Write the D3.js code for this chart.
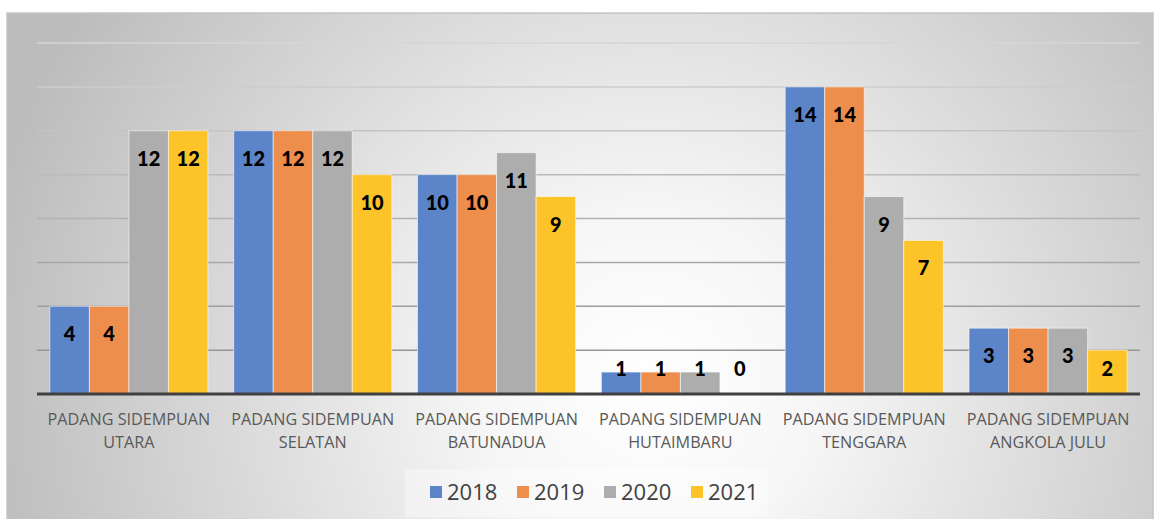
<!DOCTYPE html>
<html>
<head>
<meta charset="utf-8">
<script src="https://cdn.jsdelivr.net/npm/d3@7"></script>
<style>
  html, body { margin: 0; padding: 0; background: #fff; }
  svg { display: block; }
</style>
</head>
<body>
<script>
// kecamatan (dua baris label)
const categories = [
  ["PADANG SIDEMPUAN", "UTARA"],
  ["PADANG SIDEMPUAN", "SELATAN"],
  ["PADANG SIDEMPUAN", "BATUNADUA"],
  ["PADANG SIDEMPUAN", "HUTAIMBARU"],
  ["PADANG SIDEMPUAN", "TENGGARA"],
  ["PADANG SIDEMPUAN", "ANGKOLA JULU"]
];
const years = ["2018", "2019", "2020", "2021"];
const v2018 = [4, 12, 10, 1, 14, 3];
const v2019 = [4, 12, 10, 1, 14, 3];
const v2020 = [12, 12, 11, 1, 9, 3];
const v2021 = [12, 10, 9, 0, 7, 2];
const yTicks = [0, 2, 4, 6, 8, 10, 12, 14, 16];

const colors = ["#5b84c9", "#ee8e4d", "#adadad", "#fdc42a"];
const series = [v2018, v2019, v2020, v2021];

const width = 1155, height = 519;
const svg = d3.select("body").append("svg").attr("width", width).attr("height", height);

const defs = svg.append("defs");
const bg = defs.append("radialGradient").attr("id", "bg")
  .attr("gradientUnits", "userSpaceOnUse")
  .attr("cx", 650).attr("cy", 380).attr("r", 680);
bg.append("stop").attr("offset", 0).attr("stop-color", "#ffffff");
bg.append("stop").attr("offset", 0.25).attr("stop-color", "#f6f6f6");
bg.append("stop").attr("offset", 1).attr("stop-color", "#bcbcbc");

const gg = defs.append("linearGradient").attr("id", "grid")
  .attr("gradientUnits", "userSpaceOnUse")
  .attr("x1", 0).attr("y1", 43).attr("x2", 0).attr("y2", 394);
gg.append("stop").attr("offset", 0).attr("stop-color", "#d6d6d6");
gg.append("stop").attr("offset", 1).attr("stop-color", "#8c8c8c");

// latar grafik
svg.append("rect")
  .attr("x", 7).attr("y", 13).attr("width", 1146).attr("height", 520)
  .attr("fill", "url(#bg)")
  .attr("stroke", "#c4c4c4").attr("stroke-width", 1.5);

const x0 = d3.scaleBand()
  .domain(d3.range(categories.length))
  .range([37, 1140])
  .paddingInner(0.14).paddingOuter(0.07);
const x1 = d3.scaleBand().domain(years).range([0, x0.bandwidth()]);
const y = d3.scaleLinear().domain([0, 16]).range([394, 43]);

// garis bantu
svg.append("g")
  .selectAll("line")
  .data(yTicks.slice(1))
  .join("line")
  .attr("x1", 37).attr("x2", 1140)
  .attr("y1", d => y(d)).attr("y2", d => y(d))
  .attr("stroke", "url(#grid)").attr("stroke-width", 1.5);

// batang
const groups = svg.append("g")
  .selectAll("g")
  .data(categories.map((c, i) => i))
  .join("g")
  .attr("transform", i => `translate(${x0(i)},0)`);

groups.selectAll("rect")
  .data(i => years.map((yr, k) => ({ yr, k, v: series[k][i] })))
  .join("rect")
  .attr("x", d => x1(d.yr))
  .attr("y", d => y(d.v))
  .attr("width", x1.bandwidth())
  .attr("height", d => y(0) - y(d.v))
  .attr("fill", d => colors[d.k])
  .attr("stroke", "#ffffff").attr("stroke-opacity", 0.55).attr("stroke-width", 1);

groups.selectAll("text")
  .data(i => years.map((yr, k) => ({ yr, k, v: series[k][i] })))
  .join("text")
  .attr("x", d => x1(d.yr) + x1.bandwidth() / 2)
  .attr("y", d => Math.min(y(d.v) + 28, y(0) - 25))
  .attr("dy", "0.35em")
  .attr("text-anchor", "middle")
  .attr("font-family", "Lato, 'Open Sans', sans-serif")
  .attr("font-weight", 900)
  .attr("font-size", 20)
  .attr("fill", "#000")
  .text(d => d.v);

// sumbu x
const axis = d3.axisBottom(x0).tickSize(0).tickFormat("");
const gx = svg.append("g").attr("transform", `translate(0,${y(0)})`).call(axis);
gx.select(".domain").attr("d", "M37,0H1140").attr("stroke", "#404040").attr("stroke-width", 3);

const lbl = svg.append("g")
  .selectAll("text")
  .data(categories.map((c, i) => i))
  .join("text")
  .attr("x", i => x0(i) + x0.bandwidth() / 2)
  .attr("y", 425)
  .attr("text-anchor", "middle")
  .attr("font-family", "'Open Sans', sans-serif")
  .attr("font-size", 16.2)
  .attr("fill", "#595959");
lbl.selectAll("tspan")
  .data(i => categories[i].map(t => ({ t, i })))
  .join("tspan")
  .attr("x", d => x0(d.i) + x0.bandwidth() / 2)
  .attr("dy", (d, j) => j === 0 ? 0 : 23)
  .text(d => d.t);

// legenda
svg.append("rect")
  .attr("x", 405).attr("y", 469).attr("width", 363).attr("height", 48)
  .attr("fill", "#ffffff").attr("fill-opacity", 0.35);
const leg = svg.append("g")
  .selectAll("g")
  .data(years)
  .join("g")
  .attr("transform", (d, k) => `translate(${430 + k * 87},0)`);
leg.append("rect")
  .attr("x", 0).attr("y", 486).attr("width", 12).attr("height", 12)
  .attr("fill", (d, k) => colors[k]);
leg.append("text")
  .attr("x", 17).attr("y", 500)
  .attr("font-family", "'Open Sans', sans-serif")
  .attr("font-size", 22)
  .attr("fill", "#404040")
  .text(d => d);
</script>
</body>
</html>
